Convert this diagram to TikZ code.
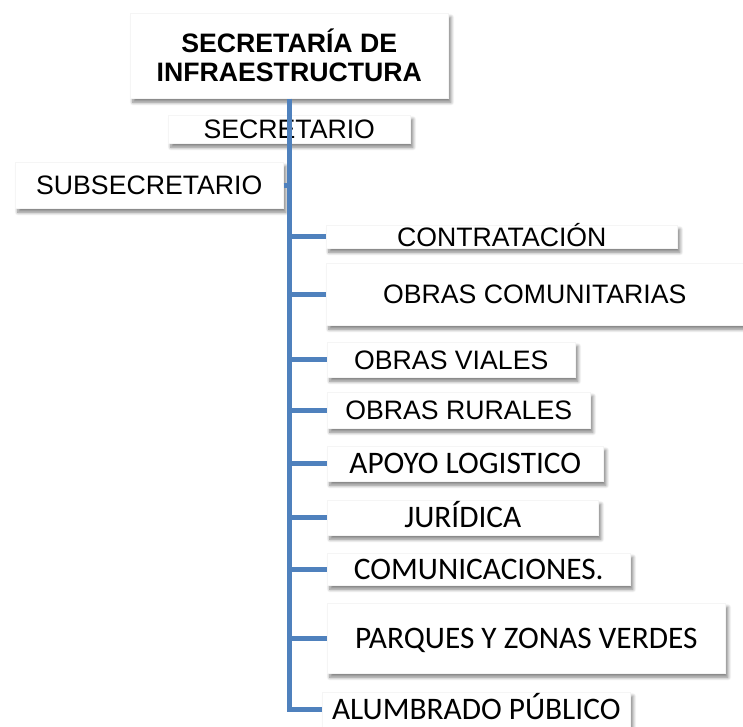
\documentclass[tikz,border=0pt]{standalone}
\usepackage{fontspec}
\setmainfont{Liberation Sans}
\newfontfamily\calib{Carlito}
\usetikzlibrary{shadows.blur}
\definecolor{orgblue}{HTML}{4F81BD}
\tikzset{
  unit/.style={rectangle, anchor=north west, fill=white, draw=gray!8, inner sep=0pt,
    blur shadow={shadow xshift=2pt, shadow yshift=-3pt, shadow blur radius=2.5pt,
      shadow blur steps=8, shadow opacity=50},
    text height=14.3pt, text depth=0pt, font=\fontsize{20}{22}\selectfont},
  cunit/.style={unit, text height=15.1pt, font=\calib\fontsize{23.5}{26}\selectfont},
  trunk/.style={orgblue, line width=3.75pt},
}
\begin{document}
\begin{tikzpicture}[x=0.75pt,y=-0.75pt]
  \useasboundingbox (0,0) rectangle (743,727);
  % upper levels
  \node[unit, text height=, text depth=, align=center, font=\bfseries\fontsize{20}{21.75}\selectfont,
        minimum width=238.5pt, minimum height=63.75pt] (top) at (130,13) {SECRETARÍA DE\\INFRAESTRUCTURA};
  \node[unit, minimum width=181.5pt, minimum height=21pt] (secr) at (168,115) {SECRETARIO};
  \node[unit, minimum width=201pt, minimum height=34.5pt] (subs) at (15,162) {SUBSECRETARIO};
  % dependencies
  \node[unit, minimum width=263.25pt, minimum height=17.25pt] (contr) at (326,225) {CONTRATACIÓN};
  \node[unit, minimum width=312.75pt, minimum height=46.5pt] (comun) at (326,263) {OBRAS COMUNITARIAS};
  \node[unit, minimum width=186pt, minimum height=26.25pt] (vial) at (327,342) {OBRAS VIALES};
  \node[unit, minimum width=197.25pt, minimum height=27pt] (rural) at (327,392) {OBRAS RURALES};
  \node[cunit, minimum width=207pt, minimum height=26.25pt] (apoyo) at (327,446) {APOYO LOGISTICO};
  \node[cunit, minimum width=203.25pt, minimum height=26.25pt] (jur) at (327,500) {JURÍDICA};
  \node[cunit, minimum width=227.25pt, minimum height=24pt] (comunic) at (327,553) {COMUNICACIONES.};
  \node[cunit, minimum width=298.5pt, minimum height=52.5pt] (parq) at (327,603) {PARQUES Y ZONAS VERDES};
  \node[cunit, minimum width=231pt, minimum height=26.25pt] (alum) at (322,692) {ALUMBRADO PÚBLICO};
  % connectors
  \draw[trunk] (top.south) |- (alum.west);
  \draw[trunk] (subs.east) -- (top.south |- subs.east);
  \foreach \n in {contr,comun,vial,rural,apoyo,jur,comunic,parq}
    \draw[trunk] (top.south |- \n.west) -- (\n.west);
\end{tikzpicture}
\end{document}
